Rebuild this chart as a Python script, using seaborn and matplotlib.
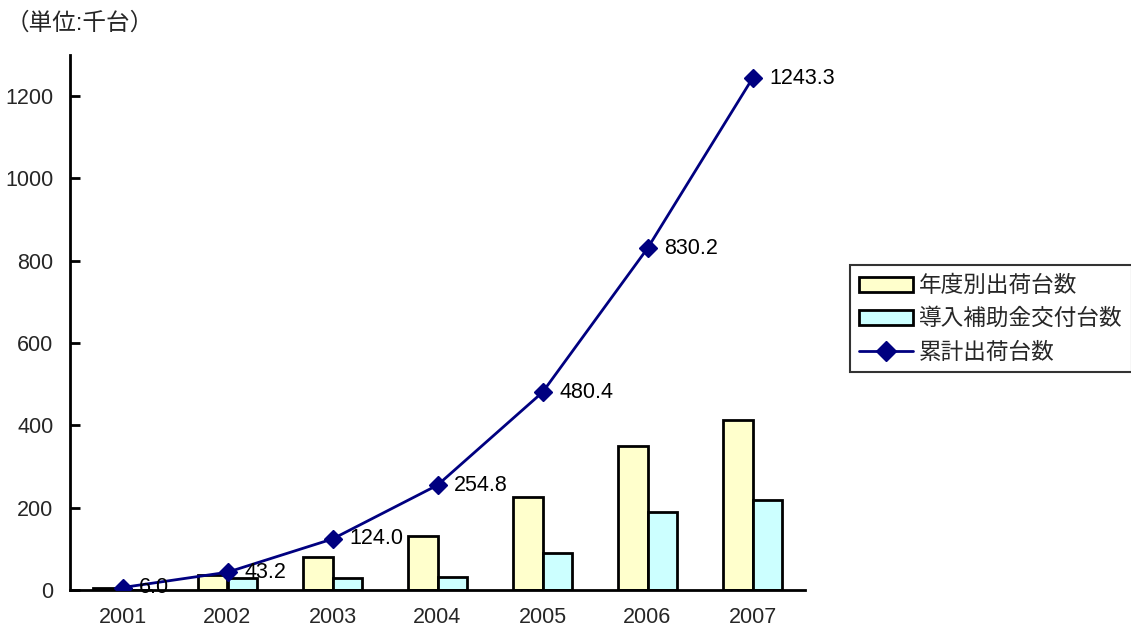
import matplotlib
matplotlib.use("Agg")
import matplotlib.pyplot as plt
import seaborn as sns
import pandas as pd
from matplotlib.patches import Patch
from matplotlib.lines import Line2D

years = ["2001", "2002", "2003", "2004", "2005", "2006", "2007"]
annual = [6.0, 37.2, 80.8, 130.8, 225.6, 349.8, 413.1]
subsidy = [0.0, 30.0, 30.0, 32.0, 89.0, 189.0, 219.0]
cumulative = [6.0, 43.2, 124.0, 254.8, 480.4, 830.2, 1243.3]
series_names = ["年度別出荷台数", "導入補助金交付台数", "累計出荷台数"]
unit_label = "（単位:千台）"

sns.set_theme(style="white")
plt.rcParams['font.family'] = ['Liberation Sans', 'Noto Sans CJK JP', 'DejaVu Sans']

df = pd.DataFrame({
    "year": years * 2,
    "value": annual + subsidy,
    "series": [series_names[0]] * len(years) + [series_names[1]] * len(years),
})

fig = plt.figure(figsize=(11.31, 6.29), dpi=100)
ax = fig.add_axes([70 / 1131, 39 / 629, 735 / 1131, 535 / 629])

bar_colors = ["#FFFFCC", "#CCFFFF"]
sns.barplot(data=df, x="year", y="value", hue="series", palette=bar_colors,
            width=0.57, edgecolor="black", linewidth=2, ax=ax, legend=False,
            saturation=1)

xs = list(range(len(years)))
ax.plot(xs, cumulative, color="#000080", linewidth=2, marker="D",
        markersize=9, markerfacecolor="#000080", markeredgecolor="#000080", zorder=5)
for x, v in zip(xs, cumulative):
    ax.annotate(f"{v:.1f}", (x, v), xytext=(12, 0), textcoords="offset points",
                ha="left", va="center", fontsize=15.5, color="black", zorder=6)

ax.set_xlim(-0.5, 6.5)
ax.set_ylim(0, 1300)
ax.set_yticks([0, 200, 400, 600, 800, 1000, 1200])
ax.set_xlabel("")
ax.set_ylabel("")
ax.set_xticks(xs)
ax.set_xticklabels(years)
ax.set_xticks([i + 0.5 for i in xs], minor=True)
ax.tick_params(axis="x", which="major", length=0, labelsize=15.5, pad=12.5)
ax.tick_params(axis="x", which="minor", direction="in", length=7, width=2, color="black")
ax.tick_params(axis="y", which="major", direction="in", length=7, width=2,
               color="black", labelsize=15.5, pad=12, left=True)
for s in ["top", "right"]:
    ax.spines[s].set_visible(False)
for s in ["left", "bottom"]:
    ax.spines[s].set_color("black")
    ax.spines[s].set_linewidth(2)

fig.text(6 / 1131, 1 - 23 / 629, unit_label, fontsize=17, ha="left", va="center")

handles = [
    Patch(facecolor=bar_colors[0], edgecolor="black", linewidth=2),
    Patch(facecolor=bar_colors[1], edgecolor="black", linewidth=2),
    Line2D([0], [0], color="#000080", linewidth=2, marker="D", markersize=10,
           markerfacecolor="#000080"),
]
leg = fig.legend(handles, series_names, loc="upper left",
                 bbox_to_anchor=(850 / 1131, 1 - 265 / 629), fontsize=16.3,
                 frameon=True, fancybox=False, edgecolor="black",
                 handlelength=2.4, handleheight=0.65, handletextpad=0.25,
                 labelspacing=0.45, borderpad=0.4, borderaxespad=0)
leg.get_frame().set_linewidth(1.5)

fig.savefig("out.png", dpi=100)
